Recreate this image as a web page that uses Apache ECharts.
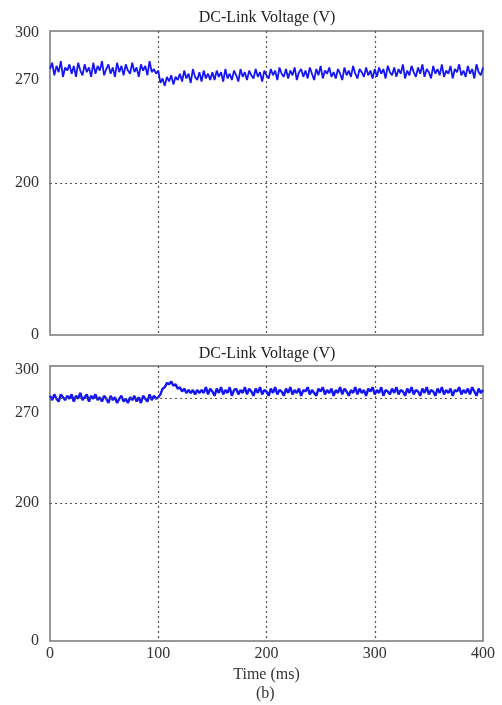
<!DOCTYPE html>
<html>
<head>
<meta charset="utf-8">
<script src="https://cdn.jsdelivr.net/npm/echarts@6/dist/echarts.min.js"></script>
<style>
  html, body { margin: 0; padding: 0; background: #fff; }
  #chart { width: 502px; height: 705px; }
</style>
</head>
<body>
<div id="chart"></div>
<script>
// sample step (ms) of the traces, 0..400 ms
const timeStep = 2
const voltTicks = [0, 200, 270, 300]

// DC-link voltage, upper plot (V)
const topVolts = [
  277,281,273,279,275,282,272,278,276,280,
  274,279,272,281,276,273,280,275,278,272,
  281,274,279,276,282,273,277,280,274,278,
  272,281,275,279,273,280,276,274,281,275,
  278,272,280,276,279,273,282,275,277,274,
  276,
  268,271,266,272,269,273,267,272,270,274,
  269,276,271,274,268,277,272,270,275,269,276,271,274,270,275,
  270,276,272,275,269,277,271,274,270,276,273,269,277,272,275,270,276,273,271,277,272,275,269,276,273,
  271,277,273,276,270,278,274,272,277,271,
  276,273,278,270,275,277,272,276,271,278,
  274,270,277,273,279,271,276,274,278,272,
  275,271,277,274,270,278,273,276,272,279,
  274,271,277,275,272,278,273,276,271,277,
  272,278,274,277,271,279,275,273,278,272,
  277,274,280,271,276,273,279,275,272,278,
  274,280,272,277,275,271,279,274,277,273,
  280,272,276,274,279,271,277,275,280,273,
  276,272,279,274,277,271,280,275,273,278
]

// DC-link voltage, lower plot (V)
const bottomVolts = [
  282,279,283,280,278,283,281,279,282,280,
  283,278,282,280,284,279,281,283,278,282,
  280,283,279,281,278,282,280,277,282,279,
  281,277,280,282,278,280,277,281,279,282,
  278,281,277,282,280,278,283,279,282,280,
  281,
  283,287,288,291,290,292,289,290,287,288,
  285,287,284,286,284,286,283,286,284,286,
  284,288,283,287,285,282,287,284,288,283,
  286,284,288,282,286,287,283,286,284,288,
  283,287,285,282,287,284,288,283,286,285,
  282,287,284,288,283,286,285,282,287,284,
  288,283,286,284,287,282,286,285,288,283,
  286,284,282,287,285,288,283,286,284,287,
  282,286,284,288,283,287,285,282,286,284,
  288,283,287,284,286,282,287,285,288,283,
  286,284,288,282,286,285,283,287,284,288,
  283,286,285,282,287,284,288,283,286,285,
  282,287,284,288,283,286,285,282,287,284,
  288,283,286,284,287,282,286,285,288,283,
  286,284,287,283,288,285,282,287,284,286
]
const bottomRefVolt = 280.5

// the printed axes are not linear: tick volts -> axis units per panel
const topScale = { pos: [0, 152, 255, 302], max: 304 }
const bottomScale = { pos: [0, 138, 228, 271], max: 275 }

function toAxis (v, scale) {
  for (let i = 1; i < voltTicks.length; i++) {
    if (v <= voltTicks[i] || i === voltTicks.length - 1) {
      const a = voltTicks[i - 1], b = voltTicks[i]
      return scale.pos[i - 1] + (v - a) / (b - a) * (scale.pos[i] - scale.pos[i - 1])
    }
  }
}

function points (vals, scale) {
  return vals.map((v, i) => [i * timeStep, toAxis(v, scale)])
}

const serif = 'Liberation Serif'
const gridLine = { color: '#555', type: [2, 3], width: 1.2 }

function yAxisFor (idx, scale) {
  return {
    type: 'value', gridIndex: idx, min: 0, max: scale.max,
    axisLine: { show: false }, axisTick: { show: false },
    splitLine: { show: false },
    axisLabel: {
      customValues: scale.pos,
      formatter: v => {
        const k = scale.pos.findIndex(p => Math.abs(p - v) < 0.01)
        return k >= 0 ? String(voltTicks[k]) : ''
      },
      fontFamily: serif, fontSize: 16, color: '#333', margin: 11
    }
  }
}

function xAxisFor (idx, showLabels) {
  return {
    type: 'value', gridIndex: idx, min: 0, max: 400, interval: 100,
    axisLine: { show: false }, axisTick: { show: false },
    splitLine: { show: true, showMinLine: false, showMaxLine: false, lineStyle: gridLine },
    axisLabel: {
      show: showLabels, fontFamily: serif, fontSize: 16, color: '#333', margin: 5
    },
    name: showLabels ? 'Time (ms)' : '',
    nameLocation: 'middle', nameGap: 26,
    nameTextStyle: { fontFamily: serif, fontSize: 16, color: '#333' }
  }
}

function hLines (scale, vals) {
  return {
    silent: true, symbol: 'none', label: { show: false },
    lineStyle: gridLine,
    data: vals.map(v => ({ yAxis: toAxis(v, scale) }))
  }
}

const titleStyle = { fontFamily: serif, fontSize: 16, fontWeight: 'normal', color: '#222' }

const chart = echarts.init(document.getElementById('chart'))
chart.setOption({
  animation: false,
  backgroundColor: '#fff',
  title: [
    { text: 'DC-Link Voltage (V)', left: 262, top: 5, textAlign: 'center', textStyle: titleStyle },
    { text: 'DC-Link Voltage (V)', left: 262, top: 341, textAlign: 'center', textStyle: titleStyle }
  ],
  grid: [
    { left: 50, right: 19, top: 31, height: 304, show: true, borderColor: '#777', borderWidth: 1.5, backgroundColor: 'transparent' },
    { left: 50, right: 19, top: 366, height: 275, show: true, borderColor: '#777', borderWidth: 1.5, backgroundColor: 'transparent' }
  ],
  xAxis: [xAxisFor(0, false), xAxisFor(1, true)],
  yAxis: [yAxisFor(0, topScale), yAxisFor(1, bottomScale)],
  graphic: [
    { type: 'text', left: 256, top: 686,
      style: { text: '(b)', font: '16px "Liberation Serif"', fill: '#333' } }
  ],
  series: [
    {
      type: 'line', xAxisIndex: 0, yAxisIndex: 0,
      data: points(topVolts, topScale),
      showSymbol: false, lineStyle: { color: '#1414f5', width: 1.8 },
      markLine: hLines(topScale, [200]), z: 3
    },
    {
      type: 'line', xAxisIndex: 1, yAxisIndex: 1,
      data: points(bottomVolts, bottomScale),
      showSymbol: false, lineStyle: { color: '#1414f5', width: 2.4 },
      markLine: hLines(bottomScale, [200, bottomRefVolt]), z: 3
    }
  ]
})
</script>
</body>
</html>
